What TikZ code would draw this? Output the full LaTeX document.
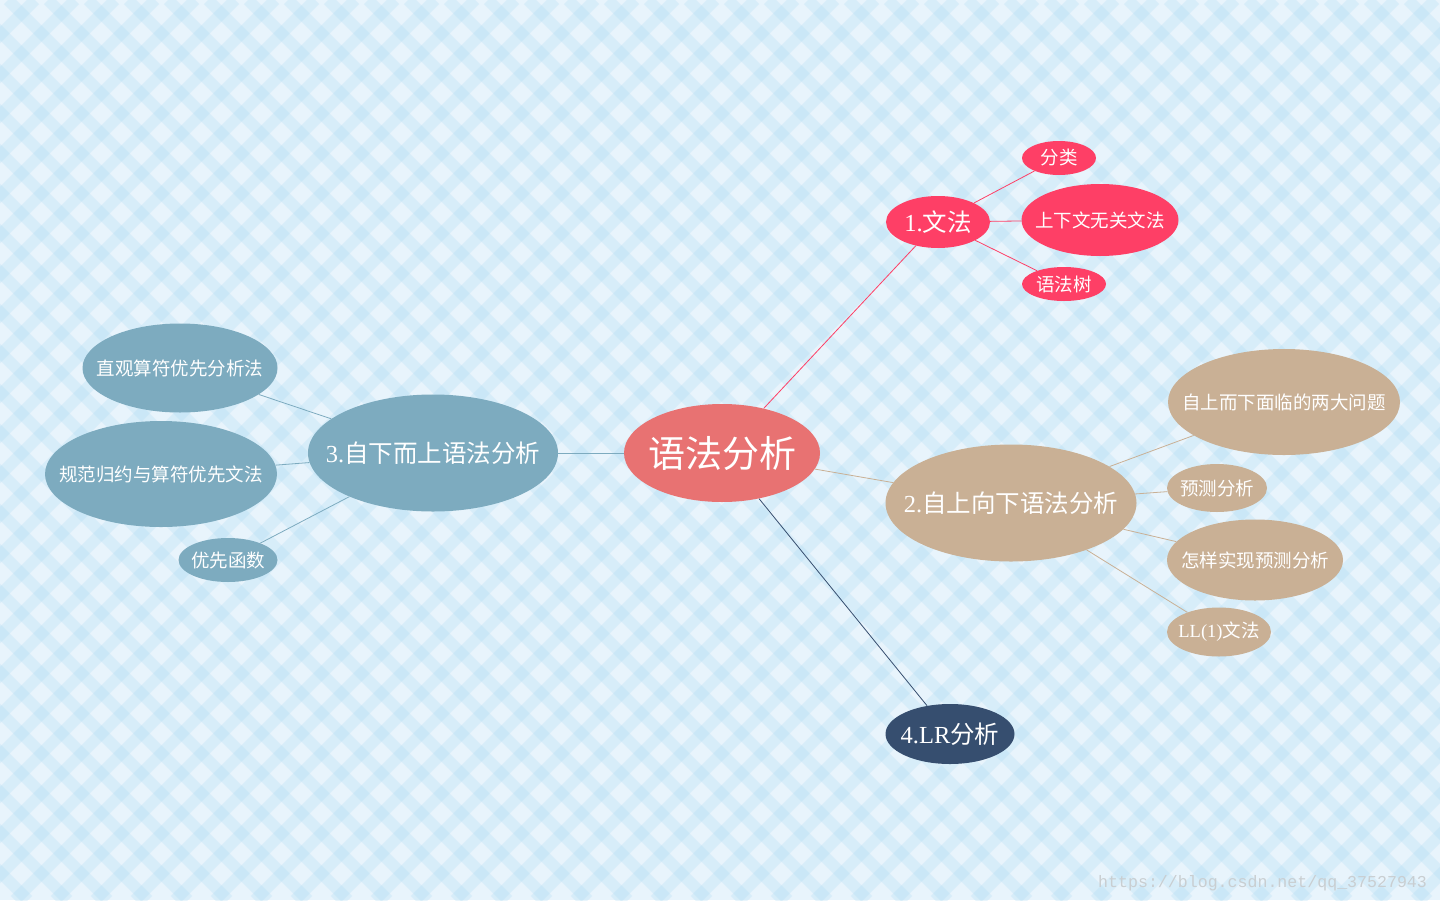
\documentclass[tikz,border=0pt]{standalone}
\usepackage{fontspec}
\setmainfont{Liberation Serif}
\newfontfamily\cjk{Noto Sans CJK SC}
\newfontfamily\wmfont{Liberation Mono}
\usetikzlibrary{shapes.geometric}
\pgfdeclarelayer{bg}
\pgfdeclarelayer{edges}
\pgfsetlayers{bg,edges,main}
\definecolor{bgbase}{HTML}{E8F4FC}
\definecolor{stripecol}{HTML}{A3D7F1}
\definecolor{cCenter}{HTML}{E87272}
\definecolor{cRed}{HTML}{FE3F66}
\definecolor{cTan}{HTML}{C9B095}
\definecolor{cBlue}{HTML}{7DABBF}
\definecolor{cNavy}{HTML}{364E6F}
\definecolor{wmgray}{HTML}{C9CED1}
\newcommand{\zw}[1]{\makebox[0pt]{#1}}
\begin{document}
\begin{tikzpicture}[x=1pt,y=-1pt,
  bubble/.style={ellipse, inner sep=0pt, text=white},
  big/.style={font=\fontsize{37}{37}\selectfont},
  mid/.style={font=\fontsize{24.5}{24.5}\selectfont},
  small/.style={font=\fontsize{18.5}{18.5}\selectfont},
  redn/.style={bubble, fill=cRed},
  tann/.style={bubble, fill=cTan},
  bluen/.style={bubble, fill=cBlue},
  navyn/.style={bubble, fill=cNavy},
  stripe/.style={line width=11.5pt, draw=stripecol, draw opacity=0.24},
  edge/.style={line width=0.8pt}
]
\useasboundingbox (0,0) rectangle (1440,900);

% background
\begin{pgfonlayer}{bg}
\fill[bgbase] (0,0) rectangle (1440,900);
\begin{scope}
\clip (0,0) rectangle (1440,900);
\foreach \c in {-885,-845,...,2400} { \draw[stripe] (\c,0) -- ++(-900,900); }
\foreach \c in {-912,-872,...,1460} { \draw[stripe] (\c,0) -- ++(900,900); }
\end{scope}
\end{pgfonlayer}

% nodes
\node[bubble, fill=cCenter, big, minimum width=196, minimum height=98] (root) at (722,453) {\zw{\cjk 语法分析}};

\node[redn, mid, minimum width=104, minimum height=52] (g1) at (938,222) {\zw{1.{\cjk 文法}}};
\node[redn, small, minimum width=74, minimum height=34] (g1a) at (1059,158) {\zw{\cjk 分类}};
\node[redn, small, minimum width=157, minimum height=72] (g1b) at (1100,220) {\zw{\cjk 上下文无关文法}};
\node[redn, small, minimum width=84, minimum height=34] (g1c) at (1064,284) {\zw{\cjk 语法树}};

\node[tann, mid, minimum width=251, minimum height=117] (g2) at (1011,503) {\zw{2.{\cjk 自上向下语法分析}}};
\node[tann, small, minimum width=232, minimum height=106] (g2a) at (1284,402) {\zw{\cjk 自上而下面临的两大问题}};
\node[tann, small, minimum width=100, minimum height=48] (g2b) at (1217,488) {\zw{\cjk 预测分析}};
\node[tann, small, minimum width=176, minimum height=81] (g2c) at (1255,560) {\zw{\cjk 怎样实现预测分析}};
\node[tann, small, minimum width=104, minimum height=49] (g2d) at (1219,632) {\zw{LL(1){\cjk 文法}}};

\node[bluen, mid, minimum width=250, minimum height=117] (g3) at (433,453) {\zw{3.{\cjk 自下而上语法分析}}};
\node[bluen, small, minimum width=195, minimum height=89] (g3a) at (180,368) {\zw{\cjk 直观算符优先分析法}};
\node[bluen, small, minimum width=232, minimum height=106] (g3b) at (161,474) {\zw{\cjk 规范归约与算符优先文法}};
\node[bluen, small, minimum width=99, minimum height=44] (g3c) at (228,560) {\zw{\cjk 优先函数}};

\node[navyn, mid, minimum width=129, minimum height=60] (g4) at (950,734) {\zw{4.LR{\cjk 分析}}};

% edges
\begin{pgfonlayer}{edges}
\draw[edge, cRed] (root) -- (g1);
\draw[edge, cRed] (g1) -- (g1a);
\draw[edge, cRed] (g1) -- (g1b);
\draw[edge, cRed] (g1) -- (g1c);
\draw[edge, cTan] (root) -- (g2);
\draw[edge, cTan] (g2) -- (g2a);
\draw[edge, cTan] (g2) -- (g2b);
\draw[edge, cTan] (g2) -- (g2c);
\draw[edge, cTan] (g2) -- (g2d);
\draw[edge, cBlue] (root) -- (g3);
\draw[edge, cBlue] (g3) -- (g3a);
\draw[edge, cBlue] (g3) -- (g3b);
\draw[edge, cBlue] (g3) -- (g3c);
\draw[edge, cNavy] (root) -- (g4);
\end{pgfonlayer}

% watermark
\node[anchor=base west, inner sep=0pt, text=wmgray, font=\wmfont\fontsize{16.6}{16.6}\selectfont] (wm) at (1098,887) {https://blog.csdn.net/qq\_37527943};
\end{tikzpicture}
\end{document}
